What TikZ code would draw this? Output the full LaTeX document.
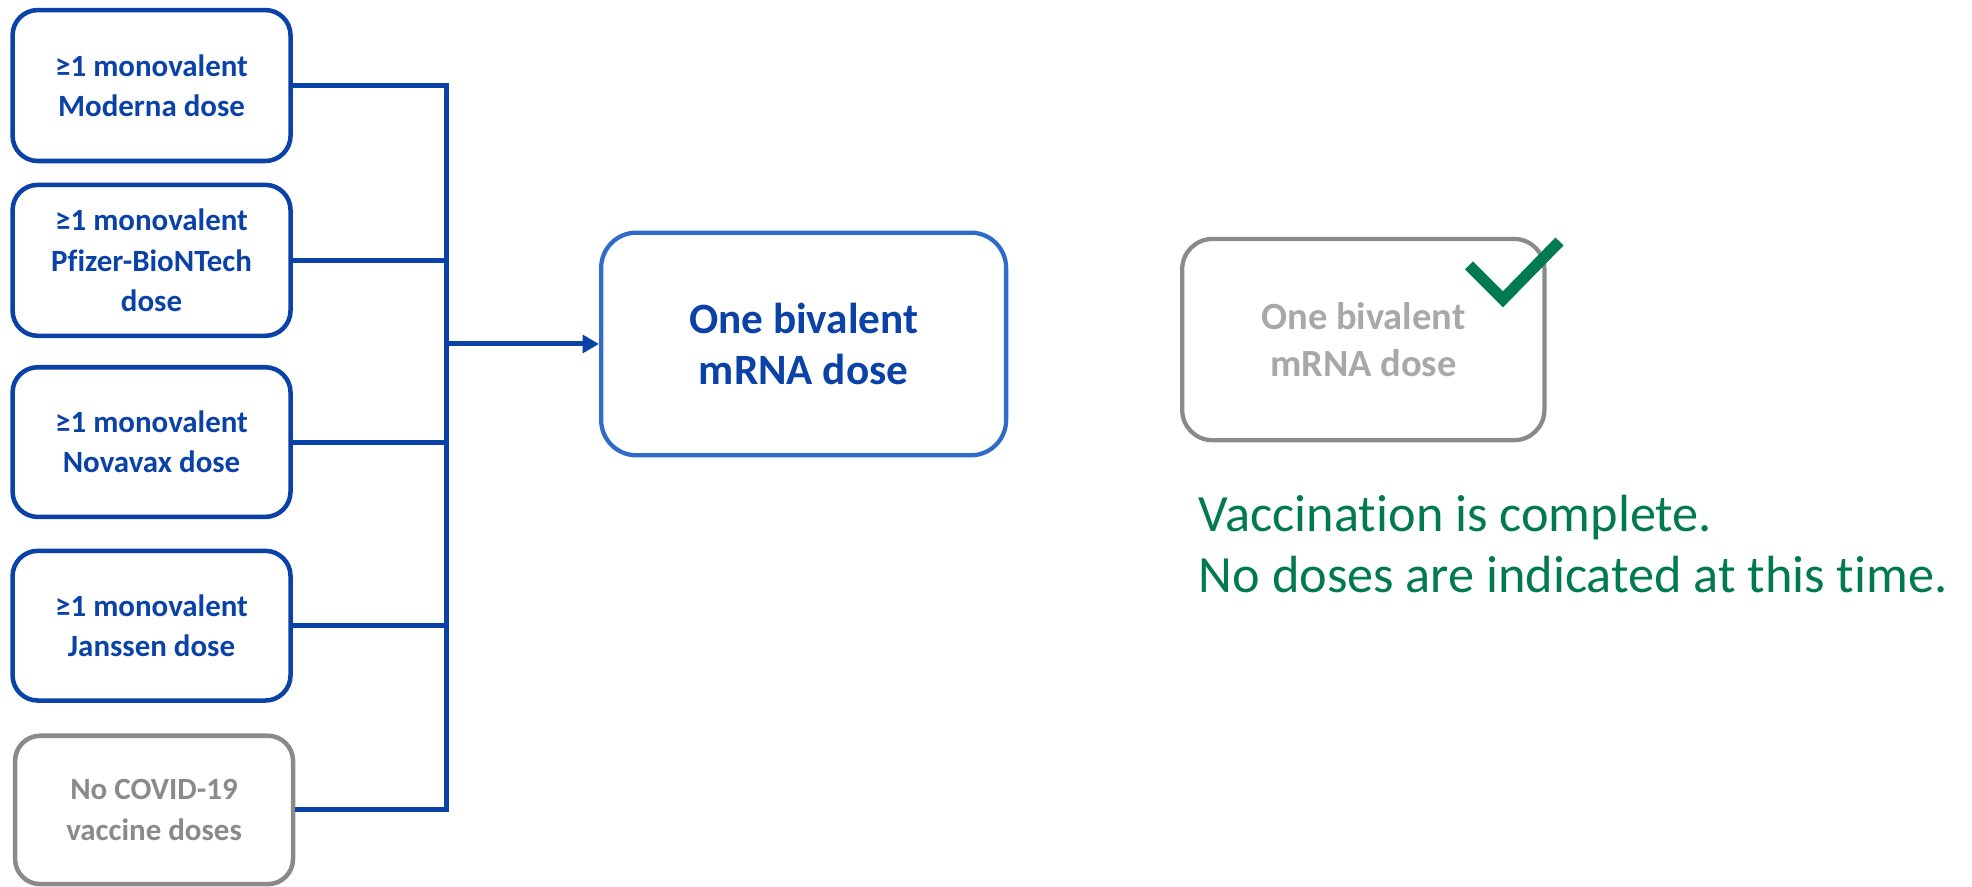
\documentclass[tikz,border=0pt]{standalone}
\usepackage{fontspec}
\setmainfont{Carlito}[Ligatures=NoCommon]
\usetikzlibrary{arrows.meta}
\definecolor{doseblue}{HTML}{0A42A8}
\definecolor{midblue}{HTML}{2F6BC8}
\definecolor{dosegray}{HTML}{8A8A8A}
\definecolor{donegray}{HTML}{A8A8A8}
\definecolor{donegreen}{HTML}{007A4E}
\begin{document}
\begin{tikzpicture}[x=1pt, y=-1pt,
  dosebox/.style={draw=doseblue, line width=3.6pt, rounded corners=20pt, minimum width=221pt, minimum height=120pt, align=center, text=doseblue, font=\bfseries\fontsize{24.6}{32}\selectfont},
  link/.style={doseblue, line width=4pt}]
\useasboundingbox (0,0) rectangle (1568,705);
\node[dosebox] (moderna) at (120.5,68) {≥1 monovalent\\Moderna dose};
\node[dosebox] (pfizer) at (120.5,207) {≥1 monovalent\\Pfizer-BioNTech\\dose};
\node[dosebox, minimum height=119pt] (novavax) at (120.5,351.5) {≥1 monovalent\\Novavax dose};
\node[dosebox, minimum height=119pt] (janssen) at (120.5,497.5) {≥1 monovalent\\Janssen dose};
\node[dosebox, draw=dosegray, text=dosegray, minimum height=118pt] (none) at (122.5,644) {No COVID-19\\vaccine doses};
\coordinate (bus) at (355,0);
\foreach \n in {moderna,pfizer,novavax,janssen,none}
  \draw[link] (\n.east) -- (\n.east -| bus);
\draw[link, line cap=rect] (moderna.east -| bus) -- (none.east -| bus);
\node[draw=midblue, line width=3.4pt, rounded corners=28pt, minimum width=322pt, minimum height=177pt, align=center, text=doseblue, font=\bfseries\fontsize{34.4}{41}\selectfont] (mid) at (639,273.5) {One bivalent\\mRNA dose};
\draw[link, -{Triangle[length=13pt,width=14pt]}] (bus |- mid.west) -- (mid.west);
\node[draw=dosegray, line width=3.4pt, rounded corners=24pt, minimum width=288pt, minimum height=160pt, align=center, text=donegray, font=\bfseries\fontsize{30.6}{38}\selectfont] (done) at (1084,270) {One bivalent\\mRNA dose};
\draw[donegreen, line width=9pt] (1168,211) -- (1195,238) -- (1240,192);
\node[anchor=west, align=left, inner sep=0pt, text=donegreen, font=\fontsize{41.6}{49}\selectfont] (note) at (953,432.5) {Vaccination is complete.\\No doses are indicated at this time.};
\end{tikzpicture}
\end{document}
